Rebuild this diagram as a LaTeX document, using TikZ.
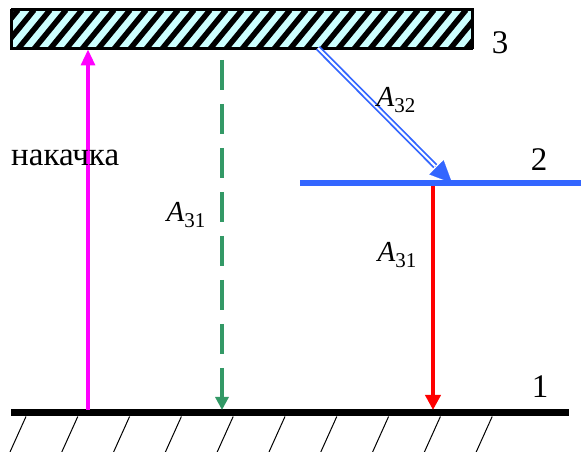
\documentclass[tikz,border=0pt]{standalone}
\usepackage{fontspec}
\setmainfont{Liberation Serif}
\usetikzlibrary{arrows.meta,calc}
\definecolor{mag}{HTML}{FF00FF}
\definecolor{grn}{HTML}{339966}
\definecolor{lvlblue}{HTML}{3366FF}
\definecolor{boxfill}{HTML}{CCFFFF}
\newcommand{\Asub}[1]{\textit{A}\raisebox{-0.2em}{\fontsize{21pt}{23pt}\selectfont #1}}
\begin{document}
\begin{tikzpicture}[x=1pt,y=1pt,
  lbl/.style={font=\fontsize{33pt}{36pt}\selectfont, inner sep=0pt},
  albl/.style={font=\fontsize{29pt}{32pt}\selectfont, inner sep=0pt},
  trans/.style={line width=3.2pt}]
\useasboundingbox (0,0) rectangle (581,452);
% level 3 box
\node[draw=black, line width=2pt, fill=boxfill, minimum width=461pt, minimum height=39pt, inner sep=0pt, anchor=south west] (box) at (11,403) {};
\begin{scope}
\clip (11,403) rectangle (472,442);
\foreach \i in {0,...,32} {
  \draw[line width=5.5pt] ({\i*16-30},403) -- ({\i*16+2},442);
}
\end{scope}
\draw[line width=2pt] (11,403) rectangle (472,442);
\node[lbl] (l3) at (500,409) {3};
% level 2
\coordinate (l2a) at (300,269);
\coordinate (l2b) at (581,269);
\draw[lvlblue, line width=6pt] (l2a) -- (l2b);
\node[lbl] (l2) at (539,292) {2};
% ground
\coordinate (g1) at (11,39);
\coordinate (g2) at (569,39);
\draw[line width=7pt] (g1) -- (g2);
\foreach \k in {0,...,9} {
  \draw[line width=1pt] ({26+\k*51.8},35.5) -- ({10+\k*51.8},0);
}
\node[lbl] (l1) at (540,65) {1};
% pump
\coordinate (pb) at (88,42);
\coordinate (pt) at (88,402.5);
\draw[mag, trans, -{Triangle[length=16pt,width=14pt]}] (pb) -- (pt);
\node[lbl, anchor=west] (pump) at (11,294) {накачка};
% A31 dashed
\coordinate (gt) at (222,392);
\coordinate (gb) at (222,42);
\draw[grn, trans, dash pattern=on 30pt off 14pt, -{Triangle[length=13pt,width=13pt]}] (gt) -- (gb);
\node[albl] (a31l) at (186,237) {\Asub{31}};
% A31 red
\coordinate (rt) at (433,266);
\coordinate (rb) at (433,42);
\draw[red, line width=4pt, -{Triangle[length=15pt,width=15pt]}] (rt) -- (rb);
\node[albl] (a31r) at (397,197) {\Asub{31}};
% A32 double arrow
\coordinate (bs) at (318,404);
\coordinate (be) at (452,269);
\coordinate (bm) at ($(bs)!0.875!(be)$);
\draw[lvlblue, line width=1.8pt, double=white, double distance=2pt] (bs) -- (bm);
\draw[lvlblue, line width=0.1pt, -{Triangle[length=22pt,width=20pt]}] (bm) -- (be);
\node[albl] (a32) at (396,352) {\Asub{32}};
\end{tikzpicture}
\end{document}
